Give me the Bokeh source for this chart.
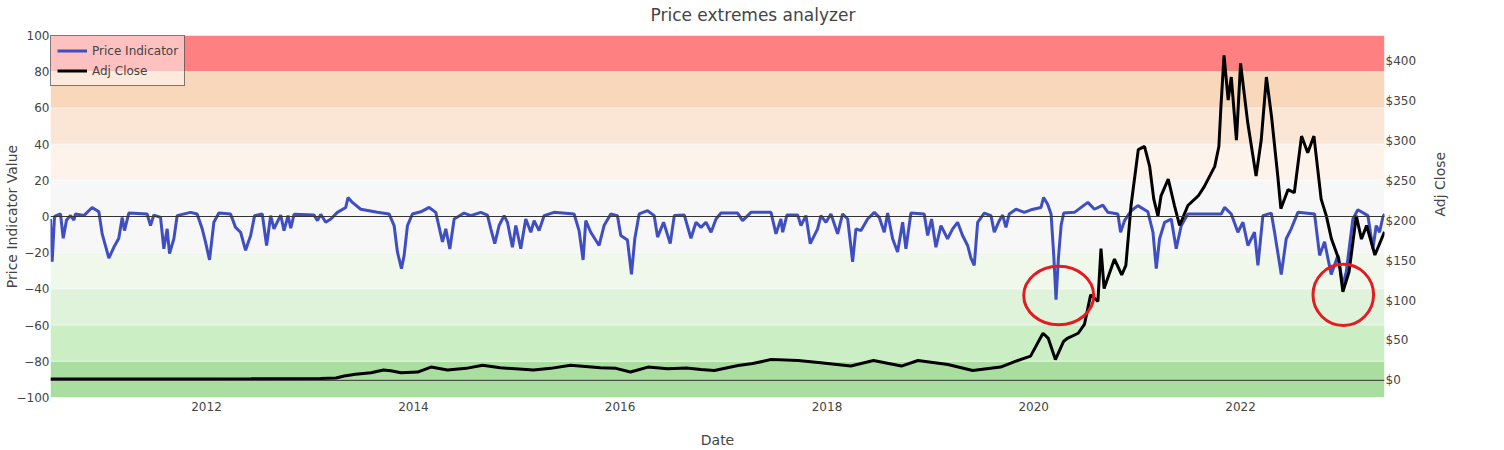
import math

import pandas as pd

from bokeh.embed import file_html
from bokeh.models import (
    BoxAnnotation,
    ColumnDataSource,
    CustomJSTickFormatter,
    DatetimeTickFormatter,
    FixedTicker,
    LinearAxis,
    NumeralTickFormatter,
    Range1d,
    Span,
    Title,
)
from bokeh.plotting import figure
from bokeh.resources import INLINE

# ── Data (dates as decimal years) ───────────────────────────────────────────
indicator_t = [
    2010.490, 2010.506, 2010.529, 2010.587, 2010.613, 2010.645, 2010.684, 2010.716,
    2010.732, 2010.813, 2010.893, 2010.958, 2010.990, 2011.055, 2011.103, 2011.151,
    2011.184, 2011.206, 2011.248, 2011.425, 2011.458, 2011.490, 2011.555, 2011.587,
    2011.619, 2011.642, 2011.684, 2011.716, 2011.845, 2011.909, 2011.958, 2011.990,
    2012.029, 2012.071, 2012.119, 2012.232, 2012.280, 2012.329, 2012.377, 2012.426,
    2012.464, 2012.538, 2012.580, 2012.619, 2012.651, 2012.716, 2012.748, 2012.787,
    2012.813, 2012.845, 2013.038, 2013.071, 2013.103, 2013.151, 2013.200, 2013.264,
    2013.345, 2013.367, 2013.409, 2013.490, 2013.651, 2013.764, 2013.813, 2013.845,
    2013.884, 2013.910, 2013.942, 2013.990, 2014.071, 2014.152, 2014.216, 2014.281,
    2014.313, 2014.352, 2014.394, 2014.490, 2014.555, 2014.652, 2014.716, 2014.749,
    2014.787, 2014.829, 2014.878, 2014.910, 2014.958, 2014.991, 2015.039, 2015.087,
    2015.136, 2015.168, 2015.216, 2015.265, 2015.361, 2015.555, 2015.603, 2015.642,
    2015.668, 2015.716, 2015.797, 2015.845, 2015.910, 2015.974, 2016.007, 2016.071,
    2016.110, 2016.142, 2016.184, 2016.265, 2016.329, 2016.362, 2016.420, 2016.484,
    2016.523, 2016.620, 2016.684, 2016.733, 2016.781, 2016.829, 2016.878, 2016.926,
    2016.974, 2017.135, 2017.183, 2017.264, 2017.458, 2017.506, 2017.554, 2017.571,
    2017.612, 2017.716, 2017.748, 2017.796, 2017.838, 2017.909, 2017.941, 2017.990,
    2018.038, 2018.103, 2018.151, 2018.200, 2018.248, 2018.280, 2018.329, 2018.393,
    2018.458, 2018.506, 2018.554, 2018.587, 2018.635, 2018.683, 2018.732, 2018.764,
    2018.812, 2018.941, 2018.974, 2019.012, 2019.054, 2019.103, 2019.167, 2019.216,
    2019.264, 2019.312, 2019.361, 2019.393, 2019.425, 2019.458, 2019.522, 2019.587,
    2019.619, 2019.667, 2019.700, 2019.732, 2019.764, 2019.829, 2019.909, 2019.974,
    2020.071, 2020.096, 2020.135, 2020.168, 2020.194, 2020.216, 2020.239, 2020.265,
    2020.290, 2020.394, 2020.523, 2020.587, 2020.668, 2020.716, 2020.813, 2020.839,
    2020.877, 2020.942, 2021.006, 2021.103, 2021.152, 2021.184, 2021.216, 2021.265,
    2021.329, 2021.377, 2021.426, 2021.490, 2021.813, 2021.845, 2021.910, 2021.974,
    2022.023, 2022.071, 2022.135, 2022.168, 2022.216, 2022.297, 2022.329, 2022.394,
    2022.442, 2022.490, 2022.555, 2022.716, 2022.765, 2022.813, 2022.877, 2022.942,
    2022.990, 2023.023, 2023.087, 2023.135, 2023.232, 2023.281, 2023.313, 2023.345,
    2023.377, 2023.393,
]
indicator_v = [
    -1.4, -25, 0, 1.4, -12, -2, 0.5, -2,
    1.4, 0.5, 5, 2.6, -9.6, -23, -17, -12,
    -0.5, -7.8, 1.9, 1.4, -5, 0.8, -0.5, -17.8,
    -6.8, -20.5, -12.3, 0.5, 2.3, 1.4, -6.8, -14,
    -24, -3.2, 1.9, 1.4, -6, -8.7, -18.7, -10.5,
    0.5, 1.4, -16, 0.5, -6.8, 0.8, -7.8, 0.5,
    -6.5, 1.2, 0.8, -2.3, 1.2, -3.2, -1.4, 2.3,
    5, 10.5, 7.8, 4, 2.3, 1.4, -5, -19.6,
    -28.8, -21.5, -5, 1.4, 2.6, 5, 2.3, -14,
    -6.8, -18, -1.4, 1.9, 0.5, 2.3, 0.8, -6.8,
    -15, -5, 0.5, -3.2, -17, -5, -17.8, -1.4,
    -8.7, -2.3, -7.8, 0.5, 2.3, 1.4, -7.8, -24,
    -2.3, -8.7, -16, -5, 1.4, 0.5, -10.5, -13,
    -32, -12.3, 1.4, 3.2, 0.5, -11.4, -3.2, -15,
    0.5, 0.8, -12, -3.2, -6, -3.2, -8.7, -1.4,
    1.9, 1.9, -2.3, 2.3, 2.3, -9.6, -1.4, -8.7,
    0.8, 0.8, -5, 0.5, -15, -6.8, 0.5, -3.2,
    1.4, -9.6, 1.4, -1.4, -25, -6.8, -7.8, -1.4,
    2.3, -0.5, -8.7, 1.9, -12.3, -19.6, -3.2, -17.8,
    1.9, 1.4, -10.5, -1.4, -17, -5, -12.3, -6.8,
    -3.2, -10.5, -16, -23, -27, -3.2, 1.9, 0.5,
    -8.7, -2.3, 0.8, -6, 1.4, 4, 2.3, 3.7,
    5, 10.5, 6.8, 1.4, -21.5, -46, -23, -5,
    1.9, 2.3, 7.8, 4, 6.3, 2.3, 1.4, -8.7,
    -2.3, 3.2, 6, 2.6, -8.7, -28.8, -12.3, -3.2,
    -1.4, -17.8, -5, 1.4, 1.4, 5, 1.4, -8.7,
    -3.2, -16, -8.7, -27, 0.5, 1.9, -8.7, -32,
    -12.3, -6.8, 2.3, 1.4, -21.5, -14, -32, -21.5,
    -38, -30.6, -1.4, 3.7, 0.5, -17.8, -5, -8.7,
    -0.5, 1.4,
]

price_t = [
    2010.49, 2011.46, 2012.43, 2013.10, 2013.25, 2013.33, 2013.44, 2013.59,
    2013.71, 2013.78, 2013.88, 2014.04, 2014.17, 2014.33, 2014.51, 2014.67,
    2014.84, 2015.16, 2015.33, 2015.52, 2015.81, 2015.96, 2016.10, 2016.27,
    2016.46, 2016.64, 2016.78, 2016.91, 2017.14, 2017.28, 2017.46, 2017.72,
    2017.94, 2018.23, 2018.45, 2018.72, 2018.88, 2019.17, 2019.41, 2019.68,
    2019.81, 2019.97, 2020.09, 2020.14, 2020.21, 2020.29, 2020.33, 2020.43,
    2020.49, 2020.55, 2020.62, 2020.65, 2020.68, 2020.78, 2020.85, 2020.89,
    2020.94, 2021.01, 2021.07, 2021.12, 2021.16, 2021.20, 2021.23, 2021.30,
    2021.36, 2021.41, 2021.49, 2021.59, 2021.65, 2021.75, 2021.79, 2021.81,
    2021.84, 2021.88, 2021.91, 2021.96, 2022.00, 2022.07, 2022.15, 2022.20,
    2022.25, 2022.30, 2022.36, 2022.39, 2022.46, 2022.52, 2022.59, 2022.65,
    2022.71, 2022.78, 2022.83, 2022.88, 2022.95, 2022.99, 2023.05, 2023.12,
    2023.17, 2023.22, 2023.30, 2023.393,
]
price_v = [
    1.6, 1.8, 2.0, 2.4, 3.0, 5.5, 7.5, 9.5,
    13, 12, 9.6, 10.4, 16.6, 13, 15, 19,
    15.8, 13, 15, 19, 15.8, 15, 10.4, 16.6,
    14.5, 15.5, 13.7, 12.4, 18.6, 21, 26, 24.8,
    22, 17.9, 24.8, 17.9, 24.8, 19.9, 12.4, 16.6,
    23.2, 30.3, 59, 53, 26, 49, 53, 59,
    70, 107, 99, 165, 115, 152, 132, 144,
    219, 289, 293, 268, 227, 206, 231, 252,
    219, 194, 219, 231, 243, 268, 293, 343,
    407, 351, 380, 301, 397, 322, 256, 301,
    380, 330, 256, 215, 239, 235, 306, 285,
    306, 227, 206, 177, 152, 111, 136, 206,
    177, 194, 157, 186,
]

# indicator bands (lower, upper, colour)
band_lo = [80, 60, 40, 20, 0, -20, -40, -60, -80]
band_hi = [100, 80, 60, 40, 20, 0, -20, -40, -60]
band_colors = [
    "#FF8080", "#F8D7BA", "#FBE5D4", "#FDF3EA", "#F7F7F7",
    "#F7F7F7", "#EFF8EB", "#DFF3DA", "#CCEEC5",
]
band_bottom_color = "#A9DEA0"

# highlighted extremes (centre year, centre value, width in years, height)
highlight_t = [2020.242, 2022.994]
highlight_v = [-43.7, -43.3]
highlight_w = [0.677, 0.586]
highlight_h = [32.3, 33.8]

year_ticks = [2012, 2014, 2016, 2018, 2020, 2022]
left_ticks = [-100, -80, -60, -40, -20, 0, 20, 40, 60, 80, 100]
right_ticks = [0, 50, 100, 150, 200, 250, 300, 350, 400]

FONT = "DejaVu Sans"
TEXT = "#444444"
MS_PER_YEAR = 365.25 * 86400000


def to_date(t):
    year = int(t)
    start = pd.Timestamp(year, 1, 1)
    end = pd.Timestamp(year + 1, 1, 1)
    return start + (end - start) * (t - year)


ind_src = ColumnDataSource(dict(x=[to_date(t) for t in indicator_t], y=indicator_v))
price_src = ColumnDataSource(dict(x=[to_date(t) for t in price_t], y=price_v))

p = figure(
    width=1496, height=450,
    x_axis_type="datetime",
    x_range=Range1d(to_date(indicator_t[0]), to_date(indicator_t[-1])),
    y_range=Range1d(-100, 100),
    output_backend="svg",
    toolbar_location=None,
    min_border_left=50, min_border_right=112,
    min_border_top=35, min_border_bottom=50,
    background_fill_color="white",
)
p.extra_y_ranges = {"adj": Range1d(-21.5, 432)}
p.outline_line_color = None
p.grid.visible = False

# ── Title (a blank spacer panel lifts it towards the top edge) ────────────────
p.add_layout(Title(text=" ", text_font_size="1px", standoff=3), "above")
p.title.text = "Price extremes analyzer"
p.title.align = "left"
p.title.offset = 600
p.title.vertical_align = "top"
p.title.standoff = 6
p.title.text_font = FONT
p.title.text_font_size = "17px"
p.title.text_font_style = "normal"
p.title.text_color = TEXT

# ── Bands ─────────────────────────────────────────────────────────────────────
for lo, hi, color in zip(band_lo, band_hi, band_colors):
    p.add_layout(BoxAnnotation(bottom=lo, top=hi, fill_color=color, fill_alpha=1,
                               line_color=None, level="underlay"))
p.add_layout(BoxAnnotation(top=-80, fill_color=band_bottom_color, fill_alpha=1,
                           line_color=None, level="underlay"))
for lvl in left_ticks[1:-1]:
    if lvl != 0:
        p.add_layout(Span(location=lvl, dimension="width", line_color="white",
                          line_alpha=0.6, line_width=1, level="underlay"))

p.add_layout(Span(location=0, dimension="width", line_color="#333333", line_width=1))
p.add_layout(Span(location=0, dimension="width", line_color="#333333", line_width=1,
                  y_range_name="adj"))

# ── Lines ─────────────────────────────────────────────────────────────────────
p.line("x", "y", source=ind_src, line_color="#3F4FC2", line_width=3,
       legend_label="Price Indicator")
p.line("x", "y", source=price_src, line_color="black", line_width=3,
       y_range_name="adj", legend_label="Adj Close")

p.ellipse(
    x=[to_date(t) for t in highlight_t], y=highlight_v,
    width=[w * MS_PER_YEAR for w in highlight_w], height=highlight_h,
    fill_color=None, line_color="#E31B23", line_width=3,
)

# ── Axes ──────────────────────────────────────────────────────────────────────
xa = p.xaxis[0]
xa.ticker = FixedTicker(ticks=[to_date(y).value // 10**6 for y in year_ticks])
xa.formatter = DatetimeTickFormatter(years="%Y", months="%Y", days="%Y")
xa.axis_label = "Date"
xa.axis_label_standoff = 18

ya = p.yaxis[0]
ya.ticker = FixedTicker(ticks=left_ticks)
ya.formatter = CustomJSTickFormatter(
    code="return tick < 0 ? '\\u2212' + (-tick) : String(tick);")
ya.axis_label = "Price Indicator Value"
ya.axis_label_standoff = -6

ra = LinearAxis(y_range_name="adj", axis_label="Adj Close")
ra.ticker = FixedTicker(ticks=right_ticks)
ra.formatter = NumeralTickFormatter(format="$0")
ra.axis_label_standoff = 21
if "axis_label_orientation" in ra.properties():
    ra.axis_label_orientation = math.pi / 2
p.add_layout(ra, "right")

for ax in (xa, ya, ra):
    ax.axis_line_color = None
    ax.major_tick_line_color = None
    ax.minor_tick_line_color = None
    ax.major_tick_out = 0
    ax.major_tick_in = 0
    ax.major_label_text_font = FONT
    ax.major_label_text_font_size = "12px"
    ax.major_label_text_color = TEXT
    ax.axis_label_text_font = FONT
    ax.axis_label_text_font_size = "14px"
    ax.axis_label_text_font_style = "normal"
    ax.axis_label_text_color = TEXT
xa.major_label_standoff = 4
ya.major_label_standoff = 1
ra.major_label_standoff = 1

# ── Legend ────────────────────────────────────────────────────────────────────
legend = p.legend[0]
legend.location = "top_left"
legend.margin = 0
legend.padding = 6
legend.spacing = 3
legend.border_line_color = "black"
legend.border_line_width = 1
legend.background_fill_color = "white"
legend.background_fill_alpha = 0.5
legend.glyph_width = 30
legend.glyph_height = 17
legend.label_height = 17
legend.label_standoff = 5
legend.label_text_font = FONT
legend.label_text_font_size = "12px"
legend.label_text_color = TEXT

open("out.html", "w").write(file_html(p, INLINE))
